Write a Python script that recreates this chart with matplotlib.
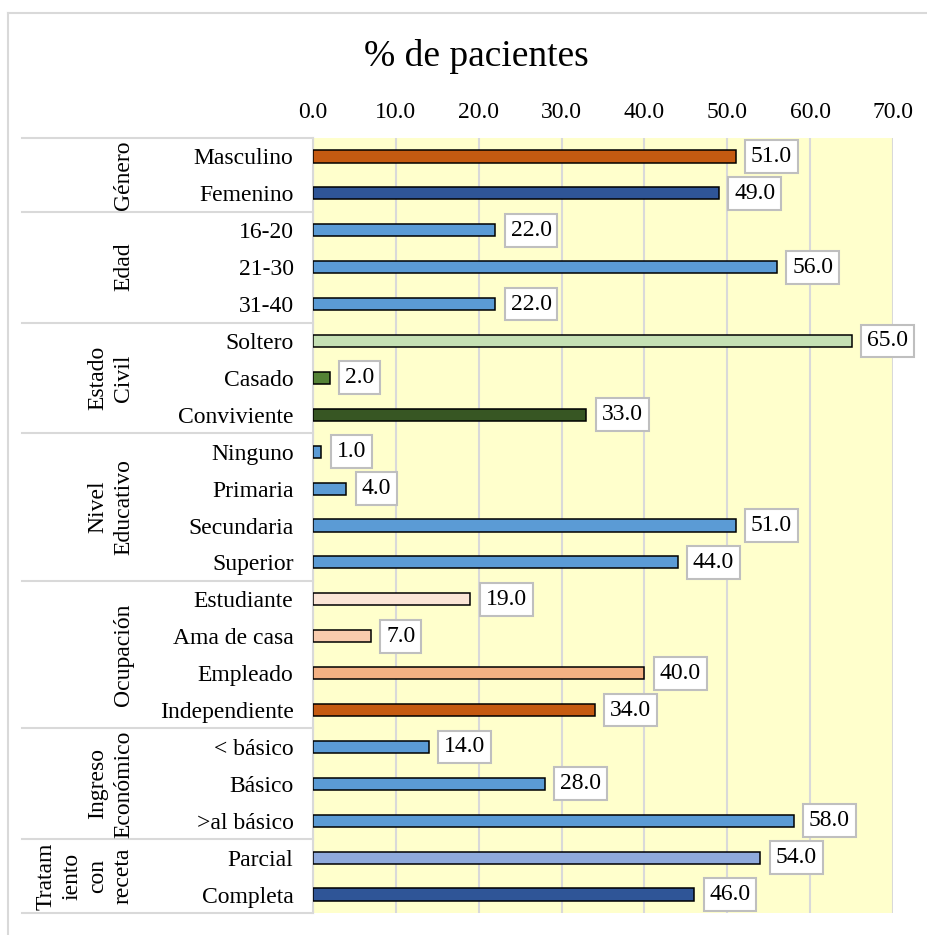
import matplotlib
matplotlib.use("Agg")
from matplotlib import pyplot as plt
from matplotlib.lines import Line2D

plt.rcParams['font.family'] = ['Liberation Serif', 'DejaVu Serif']

categories = ["Masculino", "Femenino", "16-20", "21-30", "31-40",
              "Soltero", "Casado", "Conviviente",
              "Ninguno", "Primaria", "Secundaria", "Superior",
              "Estudiante", "Ama de casa", "Empleado", "Independiente",
              "< básico", "Básico", ">al básico", "Parcial", "Completa"]
values = [51.0, 49.0, 22.0, 56.0, 22.0, 65.0, 2.0, 33.0, 1.0, 4.0, 51.0, 44.0,
          19.0, 7.0, 40.0, 34.0, 14.0, 28.0, 58.0, 54.0, 46.0]
bar_colors = ["#C55A11", "#2F5597", "#5B9BD5", "#5B9BD5", "#5B9BD5",
              "#C5E0B4", "#548235", "#375623",
              "#5B9BD5", "#5B9BD5", "#5B9BD5", "#5B9BD5",
              "#FBE5D6", "#F8CBAD", "#F4B183", "#C55A11",
              "#5B9BD5", "#5B9BD5", "#5B9BD5", "#8FAADC", "#2F5597"]
groups = ["Género", "Edad", "Estado\nCivil", "Nivel\nEducativo", "Ocupación",
          "Ingreso\nEconómico", "Tratam\niento\ncon\nreceta"]
group_sizes = [2, 3, 3, 4, 4, 3, 2]
xticks = [0, 10, 20, 30, 40, 50, 60, 70]

W, H = 928, 935
fs = 17
fig = plt.figure(figsize=(W / 100, H / 100), dpi=100)
ax = fig.add_axes([313 / W, 1 - 913 / H, 580 / W, 775 / H])
ax.set_facecolor("#FFFFCC")

y = list(range(len(categories)))
ax.barh(y, values, height=0.33, color=bar_colors, edgecolor="black",
        linewidth=1.1, zorder=3)

for yi, v in zip(y, values):
    ax.annotate(f"{v:.1f}", xy=(v, yi), xytext=(11, 0), textcoords="offset points",
                ha="left", va="center", fontsize=fs, zorder=4,
                bbox=dict(boxstyle="square,pad=0.25", facecolor="white",
                          edgecolor="#BFBFBF", linewidth=1.5))

ax.set_xlim(0, 70)
ax.set_ylim(20.5, -0.5)
ax.set_xticks(xticks)
ax.set_xticklabels([f"{t:.1f}" for t in xticks])
ax.xaxis.tick_top()
ax.set_yticks(y)
ax.set_yticklabels(categories)
ax.tick_params(axis="x", length=0, pad=11, labelsize=fs)
ax.tick_params(axis="y", length=0, pad=14, labelsize=fs)
ax.grid(axis="x", color="#D9D9D9", linewidth=1.5, zorder=1)
for s in ["top", "right", "bottom"]:
    ax.spines[s].set_visible(False)
ax.spines["left"].set_color("#D9D9D9")
ax.spines["left"].set_linewidth(1.5)

# group separators and labels
tr = ax.get_yaxis_transform()
x_left = (22 - 313) / 580
x_lab = (134 - 313) / 580
start = -0.5
ax.plot([x_left, 0], [start, start], transform=tr, color="#D9D9D9",
        linewidth=1.5, clip_on=False)
for g, n in zip(groups, group_sizes):
    end = start + n
    ax.plot([x_left, 0], [end, end], transform=tr, color="#D9D9D9",
            linewidth=1.5, clip_on=False)
    ax.text(x_lab, (start + end) / 2, g, transform=tr, rotation=90,
            ha="right", va="center", multialignment="center", fontsize=fs,
            linespacing=1.3)
    start = end

fig.text(476 / W, 1 - 57 / H, "% de pacientes", ha="center", va="center",
         fontsize=27)

# chart border
fig.add_artist(Line2D([8.5 / W, 8.5 / W], [0, 1 - 12.5 / H], color="#D9D9D9", linewidth=1.5))
fig.add_artist(Line2D([8.5 / W, 1], [1 - 12.5 / H, 1 - 12.5 / H], color="#D9D9D9", linewidth=1.5))

fig.savefig("out.png", dpi=100)
